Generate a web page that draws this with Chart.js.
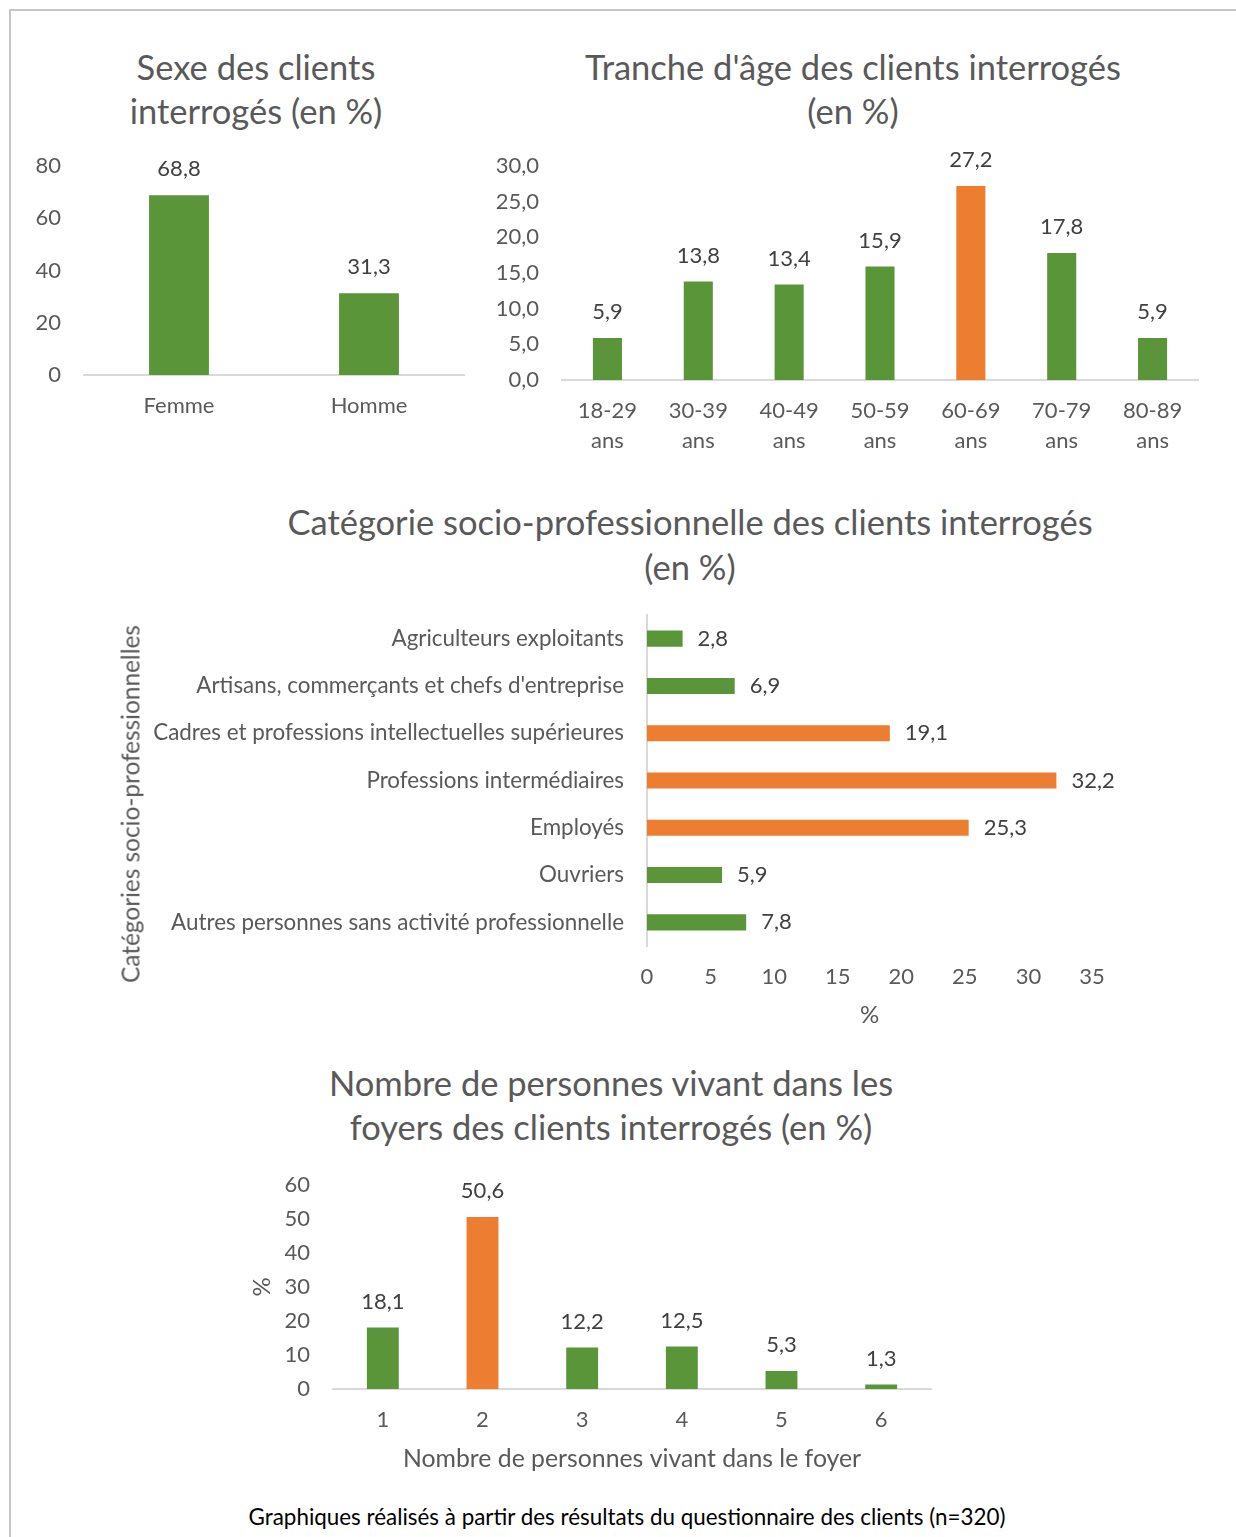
<!DOCTYPE html>
<html lang="fr">
<head>
  <meta charset="UTF-8" />
  <title>Profil des clients interrogés</title>
  <script src="https://cdn.jsdelivr.net/npm/chart.js"></script>
  <style>
    body { margin: 0; background: #fff; font-family: Lato, sans-serif; }
    #page { position: relative; width: 1236px; height: 1537px; overflow: hidden; }
    .frame { position: absolute; left: 9px; top: 9px; width: 1240px; height: 1540px;
             border-left: 2px solid #c6c6c6; border-top: 2px solid #c6c6c6; }
    .title { position: absolute; color: #595959; font-size: 34.5px; line-height: 44px;
             text-align: center; white-space: nowrap; transform: translateX(-50%); }
    .ytitle { position: absolute; left: 130px; top: 804px; color: #595959; font-size: 24.4px;
              white-space: nowrap; transform: translate(-50%, -50%) rotate(-90deg); }
    .box { position: absolute; }
    .note { position: absolute; left: 0; width: 1254px; top: 1503px; text-align: center;
            font-size: 22.4px; color: #000; }
  </style>
</head>
<body>
<div id="page">
  <div class="frame"></div>

  <div class="title" style="left:256px; top:45px;">Sexe des clients<br>interrogés (en %)</div>
  <div class="box" style="left:20px; top:140px;"><canvas id="sexChart" width="460" height="300"></canvas></div>

  <div class="title" style="left:853px; top:45px;">Tranche d'âge des clients interrogés<br>(en %)</div>
  <div class="box" style="left:480px; top:140px;"><canvas id="ageChart" width="756" height="320"></canvas></div>

  <div class="title" style="left:690px; top:499px; line-height:45px;">Catégorie socio-professionnelle des clients interrogés<br>(en %)</div>
  <div class="box" style="left:100px; top:600px;"><canvas id="cspChart" width="1136" height="440"></canvas></div>
  <div class="ytitle">Catégories socio-professionnelles</div>

  <div class="title" style="left:611px; top:1061px;">Nombre de personnes vivant dans les<br>foyers des clients interrogés (en %)</div>
  <div class="box" style="left:240px; top:1170px;"><canvas id="foyerChart" width="720" height="310"></canvas></div>

  <div class="note">Graphiques réalisés à partir des résultats du questionnaire des clients (n=320)</div>
</div>

<script>
  // Data
  const sexLabels = ['Femme', 'Homme'];
  const sexValues = [68.8, 31.3];

  const ageLabels = [['18-29', 'ans'], ['30-39', 'ans'], ['40-49', 'ans'], ['50-59', 'ans'], ['60-69', 'ans'], ['70-79', 'ans'], ['80-89', 'ans']];
  const ageValues = [5.9, 13.8, 13.4, 15.9, 27.2, 17.8, 5.9];

  const cspLabels = [
    'Agriculteurs exploitants',
    "Artisans, commerçants et chefs d'entreprise",
    'Cadres et professions intellectuelles supérieures',
    'Professions intermédiaires',
    'Employés',
    'Ouvriers',
    'Autres personnes sans activité professionnelle'
  ];
  const cspValues = [2.8, 6.9, 19.1, 32.2, 25.3, 5.9, 7.8];

  const foyerLabels = ['1', '2', '3', '4', '5', '6'];
  const foyerValues = [18.1, 50.6, 12.2, 12.5, 5.3, 1.3];

  const GREEN = '#5b9539';
  const ORANGE = '#ed7d31';
  const TEXT = '#595959';

  Chart.defaults.font.family = 'Lato';
  Chart.defaults.color = TEXT;

  const fmt1 = v => v.toFixed(1).replace('.', ',');

  // highest value(s) in orange, like the reference
  const ageColors = ageValues.map(v => v === 27.2 ? ORANGE : GREEN);
  const cspColors = cspValues.map(v => v >= 19 ? ORANGE : GREEN);
  const foyerColors = foyerValues.map(v => v === 50.6 ? ORANGE : GREEN);

  // value labels above / right of each bar
  const valueLabels = {
    id: 'valueLabels',
    afterDatasetsDraw(chart) {
      const ctx = chart.ctx;
      const horizontal = chart.options.indexAxis === 'y';
      chart.data.datasets.forEach((ds, i) => {
        chart.getDatasetMeta(i).data.forEach((bar, j) => {
          ctx.save();
          ctx.fillStyle = '#404040';
          ctx.font = '22px Lato';
          ctx.textBaseline = 'middle';
          if (horizontal) {
            ctx.textAlign = 'left';
            ctx.fillText(fmt1(ds.data[j]), bar.x + 15, bar.y);
          } else {
            ctx.textAlign = 'center';
            ctx.fillText(fmt1(ds.data[j]), bar.x, bar.y - 26);
          }
          ctx.restore();
        });
      });
    }
  };

  const noGrid = { display: false, drawTicks: false };
  const baseLine = { display: true, color: '#d9d9d9', width: 2 };

  // pin the axis boxes so the plot area lands where the reference has it
  const fixY = w => s => { s.width = w; s.paddingTop = 0; s.paddingBottom = 0; };
  const fixX = h => s => { s.height = h; s.paddingLeft = 0; s.paddingRight = 0; };

  function columnChart(id, labels, values, colors, o) {
    return new Chart(document.getElementById(id), {
      type: 'bar',
      data: {
        labels: labels,
        datasets: [{ data: values, backgroundColor: colors, barPercentage: o.bar, categoryPercentage: 1 }]
      },
      options: {
        responsive: false,
        animation: false,
        layout: { padding: { left: 0, right: o.padRight, top: o.padTop, bottom: 0 } },
        plugins: { legend: { display: false }, tooltip: { enabled: false } },
        scales: {
          x: {
            grid: noGrid,
            border: baseLine,
            ticks: { padding: o.xPad, font: { size: 22, lineHeight: o.xLine || 1.2 }, color: TEXT },
            title: o.xTitle ? { display: true, text: o.xTitle, font: { size: 24.8 }, color: TEXT, padding: { top: 0, bottom: 6 } } : { display: false },
            afterFit: fixX(o.xHeight)
          },
          y: {
            min: 0, max: o.max,
            grid: noGrid,
            border: { display: false },
            ticks: { stepSize: o.step, padding: 23, font: { size: 22 }, color: TEXT, callback: o.tickFmt },
            title: o.yTitle ? { display: true, text: o.yTitle, font: { size: 24 }, color: TEXT, padding: { top: 8, bottom: 0 } } : { display: false },
            afterFit: fixY(o.yWidth)
          }
        }
      },
      plugins: [valueLabels]
    });
  }

  // Sexe des clients
  columnChart('sexChart', sexLabels, sexValues, GREEN, {
    bar: 0.315, padRight: 16, padTop: 26, xHeight: 65, yWidth: 64, xPad: 18,
    max: 80, step: 20, tickFmt: v => v
  });

  // Tranche d'âge
  columnChart('ageChart', ageLabels, ageValues, ageColors, {
    bar: 0.32, padRight: 38, padTop: 26, xHeight: 80, yWidth: 82, xPad: 16, xLine: 1.36,
    max: 30, step: 5, tickFmt: v => fmt1(v)
  });

  // Nombre de personnes par foyer
  columnChart('foyerChart', foyerLabels, foyerValues, foyerColors, {
    bar: 0.32, padRight: 29, padTop: 15, xHeight: 91, yWidth: 93, xPad: 18,
    max: 60, step: 10, tickFmt: v => v,
    xTitle: 'Nombre de personnes vivant dans le foyer', yTitle: '%'
  });

  // Catégorie socio-professionnelle (horizontal)
  new Chart(document.getElementById('cspChart'), {
    type: 'bar',
    data: {
      labels: cspLabels,
      datasets: [{ data: cspValues, backgroundColor: cspColors, barPercentage: 0.34, categoryPercentage: 1 }]
    },
    options: {
      indexAxis: 'y',
      responsive: false,
      animation: false,
      layout: { padding: { left: 0, right: 144, top: 15, bottom: 0 } },
      plugins: { legend: { display: false }, tooltip: { enabled: false } },
      scales: {
        x: {
          min: 0, max: 35,
          grid: noGrid,
          border: { display: false },
          ticks: { stepSize: 5, padding: 18, font: { size: 22 }, color: TEXT },
          title: { display: true, text: '%', font: { size: 24 }, color: TEXT, padding: { top: 0, bottom: 10 } },
          afterFit: fixX(94)
        },
        y: {
          grid: noGrid,
          border: baseLine,
          ticks: { padding: 23, font: { size: 22.4 }, color: TEXT },
          afterFit: fixY(547)
        }
      }
    },
    plugins: [valueLabels]
  });
</script>
</body>
</html>
